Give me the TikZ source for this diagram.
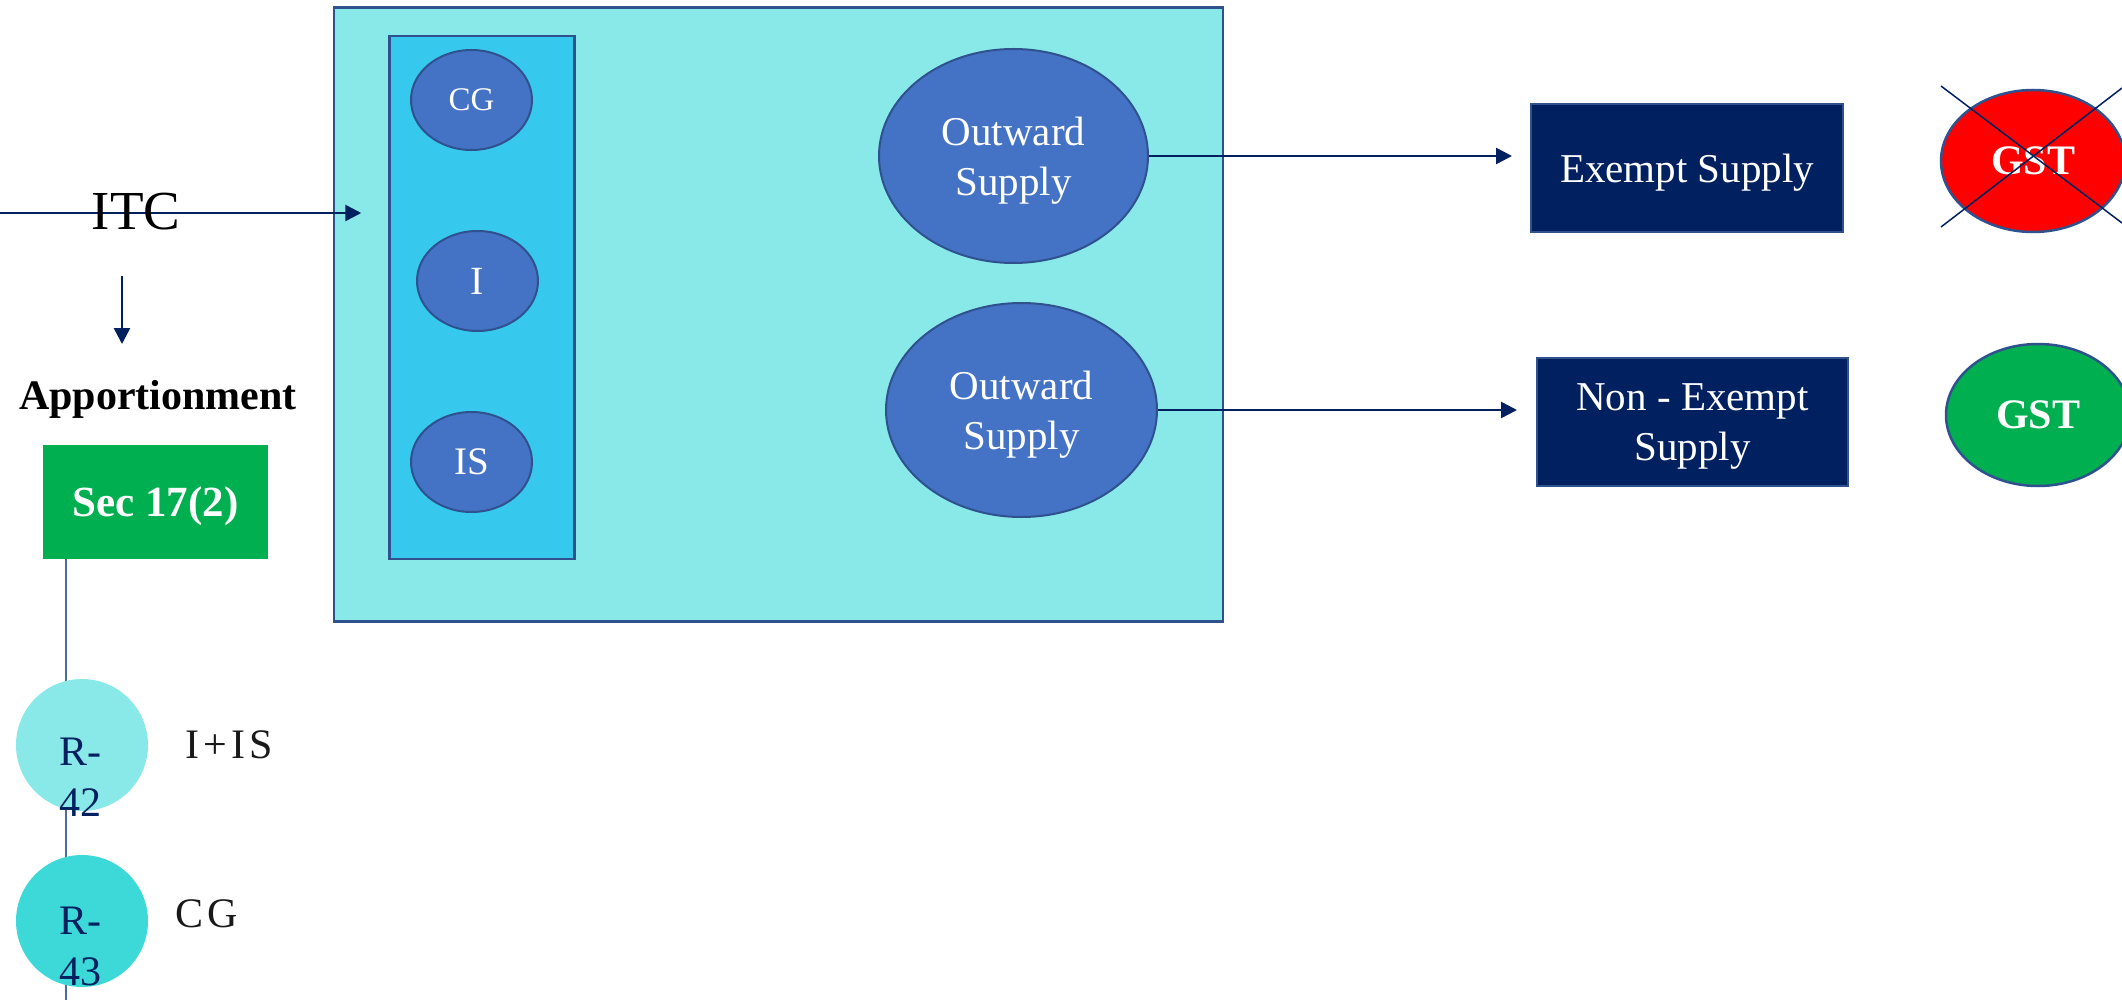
\documentclass[tikz,border=0pt]{standalone}
\usepackage{fontspec}
\setmainfont{Liberation Serif}
\usetikzlibrary{shapes.geometric,arrows.meta}
\definecolor{lcyan}{HTML}{88E9E8}
\definecolor{inblue}{HTML}{37C8EE}
\definecolor{ellblue}{HTML}{4472C4}
\definecolor{bord}{HTML}{2F528F}
\definecolor{navy}{HTML}{002060}
\definecolor{ggreen}{HTML}{00B050}
\definecolor{turq}{HTML}{3DD9D8}
\definecolor{vline}{HTML}{4F6AA0}
\tikzset{
  arr/.style={draw=navy, line width=2.5pt, -{Triangle[length=16pt,width=16pt]}},
  ell/.style={ellipse, draw=bord, line width=2pt, fill=ellblue, text=white, inner sep=0pt, align=center},
  navybox/.style={rectangle, draw=bord, line width=2pt, fill=navy, text=white, inner sep=0pt, align=center, font=\fontsize{41}{50}\selectfont},
  gst/.style={ellipse, draw=bord, line width=2.5pt, text=white, inner sep=0pt, minimum width=184pt, minimum height=142pt, text depth=-13pt, font=\fontsize{42}{50}\selectfont\bfseries},
  rcirc/.style={circle, minimum size=132pt, inner sep=0pt},
  rtext/.style={anchor=north west, inner sep=0pt, align=left, text=navy, font=\fontsize{42}{51}\selectfont},
  side/.style={anchor=base west, inner sep=0pt, text=black!90, font=\fontsize{42}{50}\selectfont\addfontfeature{LetterSpace=10}},
}
\begin{document}
\begin{tikzpicture}[x=1pt,y=-1pt]
\useasboundingbox (0,0) rectangle (2122,1000);
\clip (0,0) rectangle (2122,1000);
% big container
\node[rectangle, draw=bord, line width=2.5pt, fill=lcyan, minimum width=889pt, minimum height=614pt, inner sep=0pt] (big) at (778.5,314.5) {};
\node[rectangle, draw=bord, line width=2.5pt, fill=inblue, minimum width=185pt, minimum height=523pt, inner sep=0pt] (inner) at (482,297.5) {};
\node[ell, minimum width=121pt, minimum height=100pt, text depth=-10pt, font=\fontsize{33}{40}\selectfont] (cg) at (471.5,100) {CG};
\node[ell, minimum width=121pt, minimum height=100pt, text depth=-10pt, font=\fontsize{40}{48}\selectfont] (i) at (477.5,281) {I};
\node[ell, minimum width=121pt, minimum height=100pt, text depth=-10pt, font=\fontsize{39}{47}\selectfont] (is) at (471.5,462) {IS};
\node[ell, minimum width=269pt, minimum height=214pt, text depth=-15pt, font=\fontsize{41}{50}\selectfont] (o1) at (1013.5,156) {Outward\\Supply};
\node[ell, minimum width=271pt, minimum height=214pt, text depth=-15pt, font=\fontsize{41}{50}\selectfont] (o2) at (1021.5,410) {Outward\\Supply};
% right boxes
\node[navybox, minimum width=312pt, minimum height=128pt, text depth=-11pt] (ex) at (1687,168) {Exempt Supply};
\node[navybox, minimum width=311pt, minimum height=128pt, text depth=-17pt] (nex) at (1692.5,422) {Non - Exempt\\Supply};
\draw[arr, shorten >=18pt] (o1.east) -- (o1.east -| ex.west);
\draw[arr, shorten >=19pt] (o2.east) -- (o2.east -| nex.west);
% GST ellipses
\node[gst, fill=red] (gstx) at (2033,161) {GST};
\node[gst, fill=ggreen] (gsty) at (2038,415) {GST};
\coordinate (x1a) at (1941,86);
\coordinate (x1b) at (2122,223);
\coordinate (x2a) at (1941,227);
\coordinate (x2b) at (2122,88);
\draw[navy, line width=1.5pt] (x1a) -- (x1b);
\draw[navy, line width=1.5pt] (x2a) -- (x2b);
% ITC
\coordinate (itcs) at (0,213);
\draw[arr, shorten >=27pt] (itcs) -- (itcs -| inner.west);
\node[anchor=base, inner sep=0pt, font=\fontsize{55}{60}\selectfont] (itc) at (136,230) {ITC};
\coordinate (da) at (122,276);
\coordinate (db) at (122,344);
\draw[arr] (da) -- (db);
\node[anchor=base, inner sep=0pt, font=\fontsize{42}{50}\selectfont\bfseries] (app) at (158,409) {Apportionment};
\node[rectangle, fill=ggreen, minimum width=225pt, minimum height=114pt, inner sep=0pt, text depth=-11pt, text=white, font=\fontsize{43}{50}\selectfont\bfseries] (sec) at (155.5,502) {Sec 17(2)};
\coordinate (vl) at (66,1000);
\draw[vline, line width=1.5pt] (sec.south -| vl) -- (vl);
% R circles
\node[rcirc, fill=lcyan] (r42) at (82,745) {};
\node[rtext] (r42t) at (59,738) {R-\\42};
\node[rcirc, fill=turq] (r43) at (82,921) {};
\node[rtext] (r43t) at (59,907) {R-\\43};
\node[side] (iis) at (185,758) {I+IS};
\node[side] (cgt) at (175,927) {CG};
\end{tikzpicture}
\end{document}
